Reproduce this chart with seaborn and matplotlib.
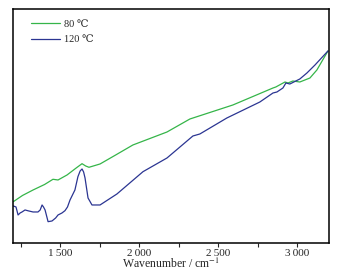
import pandas as pd
import seaborn as sns
import matplotlib.pyplot as plt
from matplotlib.ticker import MultipleLocator, FuncFormatter

# 80 °C sample
wn_80 = [1202, 1260, 1327, 1400, 1453, 1485, 1542, 1600, 1637, 1660, 1681, 1751, 1850, 1959,
         2175, 2320, 2592, 2846, 2864, 2922, 2941, 2972, 3016, 3080, 3124, 3194]
abs_80 = [41.3, 47.5, 53, 58.5, 63.7, 63, 68, 75, 79.3, 77, 75.7, 79, 88, 98,
          111, 124, 138, 155, 156, 161, 160, 162, 161, 165, 173, 192]

# 120 °C sample
wn_120 = [1202, 1219, 1232, 1245, 1257, 1276, 1300, 1327, 1358, 1372, 1384, 1393, 1403, 1422,
          1447, 1470, 1485, 1510, 1529, 1545, 1561, 1592, 1611, 1625, 1637, 1647, 1656, 1675,
          1700, 1751, 1858, 2023, 2175, 2339, 2383, 2554, 2763, 2846, 2871, 2909, 2928, 2953,
          3016, 3061, 3112, 3194]
abs_120 = [37, 36, 28, 30, 31, 33, 32, 31, 31, 33, 38, 36, 33, 21.3,
           22, 25, 28, 30, 32.3, 36, 43, 53, 66.3, 72, 74, 71, 65, 45,
           38, 38, 49, 71.3, 85, 107, 109, 125, 141, 150, 151, 155, 160, 159,
           164, 170, 178, 192]

labels = ['80 \u2103', '120 \u2103']
colors = ['#35b549', '#2b3592']

df = pd.concat([
    pd.DataFrame({'wn': wn_80, 'a': abs_80, 'sample': labels[0]}),
    pd.DataFrame({'wn': wn_120, 'a': abs_120, 'sample': labels[1]}),
])

sns.set_style('white')
plt.rcParams['font.family'] = ['Liberation Serif', 'DejaVu Serif', 'DejaVu Sans']
plt.rcParams['mathtext.fontset'] = 'stix'

fig = plt.figure(figsize=(3.38, 2.78), dpi=100)
ax = fig.add_axes([0.0385, 0.126, 0.9345, 0.8416])
sns.lineplot(data=df, x='wn', y='a', hue='sample', palette=colors, lw=0.9,
             sort=False, estimator=None, ax=ax)

ax.set_xlim(1200, 3200)
ax.set_ylim(0, 234)
ax.set_yticks([])
ax.set_ylabel('')
ax.set_xlabel('Wavenumber / cm$^{-1}$', fontsize=8.5, labelpad=-1)
ax.xaxis.set_major_locator(MultipleLocator(500))
ax.xaxis.set_minor_locator(MultipleLocator(250))
ax.xaxis.set_major_formatter(FuncFormatter(lambda v, p: f'{int(v):,}'.replace(',', '\u2009')))
ax.tick_params(axis='x', which='both', direction='out', length=3, width=0.8,
               labelsize=8, pad=1.5, bottom=True)
for s in ax.spines.values():
    s.set_color('black')
    s.set_linewidth(1.1)

leg = ax.legend(loc='upper left', frameon=False, fontsize=7.5, handlelength=2.8,
                handletextpad=0.3, labelspacing=0.6, borderaxespad=0.6,
                bbox_to_anchor=(0.025, 1.0))
for t in leg.get_texts():
    t.set_family(['Liberation Serif', 'DejaVu Serif', 'DejaVu Sans'])

fig.savefig('out.png', dpi=100)
